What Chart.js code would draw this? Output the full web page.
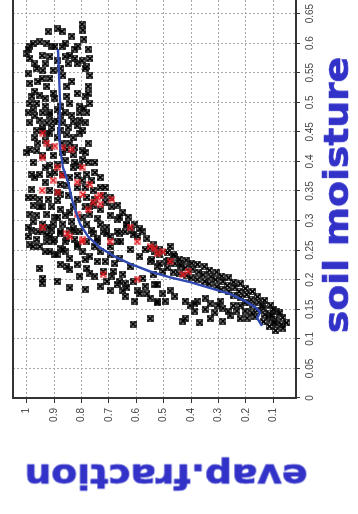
<!DOCTYPE html>
<html>
<head>
<meta charset="utf-8">
<script src="https://cdn.jsdelivr.net/npm/chart.js@4.4.1/dist/chart.umd.min.js"></script>
<style>
html,body{margin:0;padding:0;width:358px;height:514px;overflow:hidden;background:#fff;}
#wrap{position:absolute;left:0;top:514px;width:535px;height:358px;transform-origin:0 0;transform:rotate(-90deg);}
#c{position:absolute;left:0;top:0;}
.ttl{position:absolute;font-family:"DejaVu Sans",sans-serif;font-weight:bold;font-size:33px;line-height:1;color:#3232c8;white-space:nowrap;-webkit-text-stroke:0.7px #3232c8;}
#tx{left:319px;top:320px;transform:translateX(-50%) scaleX(1.14);}
#ty{left:38px;top:166px;transform:translate(-50%,-50%) rotate(-90deg) scaleX(1.14);}
</style>
</head>
<body>
<div id="wrap">
<canvas id="c" width="535" height="358"></canvas>
<div class="ttl" id="tx">soil moisture</div>
<div class="ttl" id="ty">evap.fraction</div>
</div>
<script>
// axis labels and ticks
const soilLabel = "soil moisture";
const evapLabel = "evap.fraction";
const soilTicks = [0,0.05,0.1,0.15,0.2,0.25,0.3,0.35,0.4,0.45,0.5,0.55,0.6,0.65];
const evapTicks = [0.1,0.2,0.3,0.4,0.5,0.6,0.7,0.8,0.9,1];

// [soil moisture, evap.fraction]
const blackPoints = [
[.624,.886],[.620,.871],[.612,.835],[.619,.922],[.632,.798],[.622,.795],[.607,.791],[.595,.813],[.590,.776],[.574,.769],
[.560,.780],[.545,.769],[.527,.776],[.510,.787],[.498,.769],[.482,.780],[.470,.806],[.595,.988],[.599,.977],[.602,.952],
[.600,.926],[.595,.908],[.594,.897],[.582,.999],[.590,.995],[.579,.944],[.577,.915],[.565,.970],[.557,.963],[.554,.941],
[.554,.904],[.557,.878],[.577,.860],[.579,.842],[.574,.824],[.570,.798],[.565,.816],[.565,.849],[.540,.944],[.540,.915],
[.535,.959],[.545,.868],[.535,.835],[.527,.853],[.527,.926],[.518,.970],[.510,.981],[.512,.952],[.515,.904],[.510,.853],
[.515,.816],[.498,.988],[.498,.963],[.493,.933],[.493,.878],[.498,.842],[.493,.806],[.487,.977],[.482,.941],[.477,.915],
[.477,.878],[.478,.835],[.482,.806],[.470,.952],[.465,.926],[.468,.904],[.465,.868],[.468,.831],[.457,.944],[.457,.908],
[.453,.878],[.457,.849],[.460,.816],[.477,.970],[.487,.889],[.482,.860],[.465,.787],[.465,.988],[.452,.963],[.448,.926],
[.452,.795],[.507,.897],[.565,.933],[.570,.889],[.594,.871],
[.574,.988],[.548,.995],[.532,.988],[.482,.995],[.557,.787],[.515,.776],[.490,.791],[.599,.860],[.590,.824],[.482,.915],
[.468,.886],[.507,.933],
[.452,.944],[.448,.915],[.435,.933],[.440,.889],[.445,.853],[.440,.831],[.448,.806],[.420,.988],[.415,.999],[.418,.963],
[.423,.915],[.410,.941],[.410,.904],[.420,.853],[.411,.831],[.418,.798],[.403,.795],[.401,.860],[.395,.886],[.390,.831],
[.393,.806],[.393,.915],[.378,.981],[.373,.970],[.378,.952],[.378,.915],[.378,.868],[.373,.842],[.376,.816],[.378,.780],
[.368,.762],[.353,.981],[.361,.878],[.360,.853],[.356,.816],[.356,.787],[.351,.758],[.348,.889],[.339,.977],[.336,.952],
[.336,.922],[.334,.886],[.343,.849],[.336,.816],[.339,.780],[.336,.751],[.343,.721],[.339,.696],[.326,.977],[.323,.944],
[.323,.908],[.319,.878],[.323,.831],[.323,.787],[.326,.758],[.319,.732],[.326,.667],[.311,.988],[.309,.963],[.311,.926],
[.306,.897],[.309,.860],[.306,.798],[.311,.769],[.303,.740],[.309,.696],[.301,.670],[.298,.977],[.294,.941],[.294,.904],
[.294,.868],[.298,.835],[.294,.780],[.293,.732],[.289,.707],[.294,.634],[.284,.981],[.281,.944],[.284,.908],[.278,.878],
[.284,.842],[.281,.806],[.278,.758],[.281,.721],[.273,.696],[.278,.660],[.284,.616],[.268,.963],[.264,.926],[.268,.897],
[.264,.860],[.268,.824],[.264,.780],[.264,.740],[.264,.670],[.259,.988],[.256,.952],[.253,.878],[.256,.816],[.256,.696],
[.431,.871],[.423,.824],[.431,.776],[.390,.933],[.398,.776],[.381,.751],[.356,.732],[.331,.714],[.314,.649],[.281,.641],
[.273,.594],[.314,.842],[.273,.915],[.247,.933],[.242,.897],[.339,.995],
[.440,.970],[.415,.871],[.381,.897],[.365,.933],[.398,.824],[.415,.787],[.398,.751],[.373,.732],[.356,.714],[.344,.878],
[.351,.915],[.368,.798],[.323,.769],[.323,.689],[.306,.660],[.306,.630],[.294,.605],[.281,.579],[.264,.656],[.251,.623],
[.251,.568],[.306,.886],[.289,.922],[.281,.959],[.289,.995],[.273,.995],[.284,.762],[.281,.824],[.247,.860],[.234,.787],
[.256,.751],[.231,.714],[.217,.842],[.211,.769],[.206,.689],[.194,.641],[.431,.959],[.398,.977],[.431,.842],[.323,.952],
[.256,.977],[.276,.926],[.264,.904],[.281,.878],[.269,.853],[.286,.831],[.247,.915],[.242,.889],[.251,.868],[.236,.842],
[.259,.816],[.247,.795],[.269,.743],[.278,.707],[.281,.670],[.293,.634],[.276,.612],[.286,.587],[.269,.561],[.259,.539],
[.242,.514],[.231,.488],[.247,.732],[.242,.696],[.236,.660],[.226,.878],[.222,.853],[.226,.816],[.219,.780],[.231,.743],
[.214,.721],[.214,.685],[.209,.649],[.197,.612],[.202,.576],[.209,.539],[.214,.503],[.197,.707],[.192,.670],[.186,.634],
[.181,.597],[.176,.561],[.164,.524],[.176,.503],[.181,.696],[.197,.660],
[.219,.952],[.202,.941],[.194,.944],[.197,.889],[.186,.842],[.184,.787],[.125,.612],[.134,.550],
[.239,.769],[.206,.751],[.222,.623],[.239,.587],[.231,.550],[.189,.568],[.192,.532],[.172,.641],[.164,.605],[.189,.732],
[.206,.806],[.227,.678],[.222,.524],[.256,.477],[.239,.459],[.227,.440],
[.161,.524],[.169,.550],[.176,.587],[.181,.649],
[.246,.486],[.233,.481],[.220,.487],[.242,.463],[.227,.459],[.213,.465],[.235,.442],[.223,.437],[.210,.444],
[.233,.418],[.220,.421],[.207,.416],[.228,.398],[.218,.394],[.203,.400],[.226,.377],[.213,.372],[.200,.378],
[.222,.352],[.208,.356],[.197,.350],[.216,.333],[.205,.328],[.193,.334],[.213,.307],[.200,.311],[.188,.306],
[.206,.289],[.197,.284],[.183,.290],[.203,.263],[.190,.268],[.180,.262],[.196,.245],[.187,.240],[.173,.246],
[.193,.220],[.180,.225],[.170,.219],[.185,.202],[.175,.197],[.161,.203],[.180,.176],[.166,.181],[.157,.175],
[.171,.158],[.162,.153],[.148,.159],[.165,.132],[.151,.137],[.141,.131],[.129,.136],
[.157,.110],[.143,.115],[.133,.109],[.121,.114],[.146,.088],[.133,.093],[.125,.087],[.114,.092],
[.136,.066],[.124,.070],[.118,.065],[.127,.052],
[.156,.141],[.137,.119],[.127,.097],[.144,.076],[.150,.100],[.140,.105],
[.253,.550],[.247,.532],[.251,.514],[.234,.543],[.227,.514],
[.192,.524],[.181,.477],[.164,.495],[.172,.459],[.134,.422],[.156,.404],[.164,.378],[.127,.368],[.159,.331],[.134,.331],
[.144,.313],[.152,.284],[.130,.284],[.139,.258],[.147,.233],[.134,.221],[.135,.196],[.137,.167],
[.169,.349],[.164,.294],[.156,.246],[.147,.203],[.144,.178],[.147,.386],[.130,.430],
[.159,.386],[.150,.349],[.156,.302],[.147,.265],[.156,.221],[.164,.422]
];

const redPoints = [
[.431,.926],[.423,.868],[.406,.941],[.390,.889],[.390,.798],[.368,.904],[.361,.769],[.344,.795],[.331,.758],[.328,.732],
[.318,.776],[.311,.816],[.289,.941],[.278,.853],[.264,.696],[.289,.623],[.448,.941],[.426,.897],[.420,.835],[.376,.871],
[.365,.816],[.343,.732],[.273,.842],[.268,.795],[.264,.597],[.256,.550],[.244,.524],[.209,.721],[.201,.597],[.253,.532],
[.247,.503],[.231,.477],[.209,.430],[.214,.411],[.264,.798],[.351,.944],[.348,.886],[.339,.743],[.336,.689]
];

const fitLine = [
[.590,.886],[.498,.878],[.448,.882],[.423,.878],[.390,.868],[.365,.849],[.336,.835],[.314,.820],[.294,.805],[.273,.776],
[.254,.732],[.239,.678],[.227,.623],[.214,.550],[.204,.477],[.196,.404],[.186,.331],[.176,.258],[.164,.203],[.154,.167],
[.145,.148],[.135,.159],[.122,.141]
];

function marker(line, box, lw){
  const m = document.createElement('canvas');
  m.width = 7; m.height = 7;
  const g = m.getContext('2d');
  if (box) { g.strokeStyle = box; g.lineWidth = 1; g.strokeRect(0.5,0.5,6,6); }
  g.strokeStyle = line; g.lineWidth = lw;
  g.beginPath();
  g.moveTo(1,1); g.lineTo(6,6);
  g.moveTo(6,1); g.lineTo(1,6);
  g.stroke();
  return m;
}
const toXY = a => a.map(p => ({x:p[0], y:p[1]}));
const fmt = v => String(Math.round(v*100)/100);

const frame = {
  id:'frame',
  afterDraw(chart){
    const {ctx, chartArea:a} = chart;
    ctx.save();
    ctx.strokeStyle = '#333';
    ctx.lineWidth = 2;
    ctx.strokeRect(a.left, a.top, a.right - a.left, a.bottom - a.top);
    ctx.restore();
  }
};

const tickFont = {family:'"Liberation Sans", Arial, sans-serif', size:10};

new Chart(document.getElementById('c'), {
  type:'scatter',
  data:{datasets:[
    {label:'fit', data:toXY(fitLine), showLine:true, pointRadius:0, borderColor:'#3049b0', borderWidth:2.4, order:0},
    {label:'red', data:toXY(redPoints), pointStyle:marker('#e8141e', 'rgba(220,60,60,0.45)', 1.6), pointRadius:3.5, order:1},
    {label:'black', data:toXY(blackPoints), pointStyle:marker('#000','rgba(40,40,40,0.85)', 2), pointRadius:3.5, order:2}
  ]},
  options:{
    responsive:false, animation:false, devicePixelRatio:1,
    layout:{padding:{top:13, right:0, left:0, bottom:0}},
    plugins:{legend:{display:false}, tooltip:{enabled:false}},
    scales:{
      x:{
        type:'linear', min:0, max:0.7,
        afterBuildTicks: s => { s.ticks = soilTicks.map(v => ({value:v})); },
        afterFit: s => { s.height = 62; },
        ticks:{callback:fmt, font:tickFont, color:'#444', padding:4, maxRotation:0, autoSkip:false},
        grid:{color:'#a8a8a8', lineWidth:1, tickLength:4, tickColor:'#333', tickWidth:1},
        border:{display:false, dash:[2,2]},
        title:{display:false, text:soilLabel}
      },
      y:{
        type:'linear', min:0.0172, max:1.05,
        afterBuildTicks: s => { s.ticks = evapTicks.map(v => ({value:v})); },
        afterFit: s => { s.width = 116; },
        ticks:{callback:fmt, font:tickFont, color:'#444', padding:5, autoSkip:false},
        grid:{color:'#a8a8a8', lineWidth:1, tickLength:5, tickColor:'#333', tickWidth:1},
        border:{display:false, dash:[2,2]},
        title:{display:false, text:evapLabel}
      }
    }
  },
  plugins:[frame]
});
</script>
</body>
</html>
